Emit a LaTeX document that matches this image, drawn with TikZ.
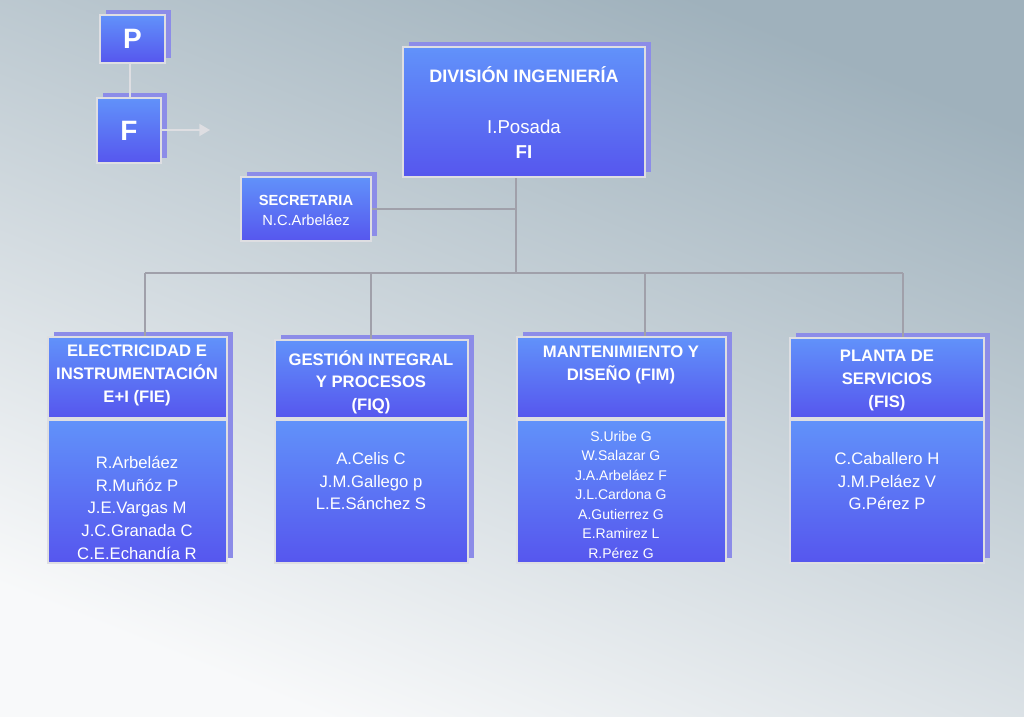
\documentclass[tikz,border=0pt]{standalone}
\usepackage{fontspec}
\setmainfont{Liberation Sans}
\usetikzlibrary{fit,arrows.meta}
\definecolor{bgtop}{HTML}{9FB1BC}
\definecolor{bgbot}{HTML}{F8F9FA}
\definecolor{btop}{HTML}{6192FA}
\definecolor{bbot}{HTML}{5656EE}
\definecolor{bord}{HTML}{DEDEE2}
\definecolor{shd}{HTML}{8C8CE8}
\definecolor{lin}{HTML}{A0A0AA}
\tikzset{
 box/.style={draw=bord,line width=1.6pt,top color=btop,bottom color=bbot,inner sep=0pt},
 shad/.style={fill=shd},
 wt/.style={text=white,align=center,inner sep=0pt},
 hd/.style={wt,font=\bfseries\fontsize{12.5}{17}\selectfont},
 bd/.style={wt,font=\fontsize{12.5}{17}\selectfont},
 conn/.style={draw=lin,line width=1.5pt},
}
\newcommand\obox[5]{%
 \fill[shad] (#2+6,#3-5) rectangle (#4+6,#5-5);
 \node[box,fit={(#2,#3)(#4,#5)}] (#1) {};}
\begin{document}
\begin{tikzpicture}[x=0.75pt,y=-0.75pt]
\shade[top color=bgtop,bottom color=bgbot,shading angle=-22] (0,0) rectangle (1024,717);
\useasboundingbox (0,0) rectangle (1024,717);
% P / F
\obox{P}{100}{15}{165}{63}
\obox{F}{97}{98}{161}{163}
\node[hd,font=\bfseries\fontsize{21}{24}\selectfont] (pt) at (P) {P};
\node[hd,font=\bfseries\fontsize{21}{24}\selectfont] (ft) at (F) {F};
\coordinate (pf) at (130,63);
\draw[conn,draw=bord] (pf) -- (pf |- F.north);
\coordinate (fa) at (210,130);
\draw[draw=bord,line width=1.5pt,-{Triangle[length=8pt,width=9pt]}] (F.east |- fa) -- (fa);
% connectors
\obox{DI}{403}{47}{645}{177}
\obox{SE}{241}{177}{371}{241}
\coordinate (j1) at (516,209);
\coordinate (j2) at (516,273);
\coordinate (h1) at (145,273);
\coordinate (h2) at (371,273);
\coordinate (h3) at (645,273);
\coordinate (h4) at (903,273);
\draw[conn] (DI.south -| j1) -- (j2);
\draw[conn] (SE.east |- j1) -- (j1);
\draw[conn] (h1) -- (h4);
% bottom boxes
\fill[shad] (54,332) rectangle (233,558);
\fill[shad] (281,335) rectangle (474,558);
\fill[shad] (523,332) rectangle (732,558);
\fill[shad] (796,333) rectangle (990,558);
\draw[conn] (h1) -- (145,337);
\draw[conn] (h2) -- (371,340);
\draw[conn] (h3) -- (645,337);
\draw[conn] (h4) -- (903,338);
\node[box,fit={(48,337)(227,418)}] (EH) {};
\node[box,fit={(48,420)(227,563)}] (EB) {};
\node[box,fit={(275,340)(468,418)}] (GH) {};
\node[box,fit={(275,420)(468,563)}] (GB) {};
\node[box,fit={(517,337)(726,418)}] (MH) {};
\node[box,fit={(517,420)(726,563)}] (MB) {};
\node[box,fit={(790,338)(984,418)}] (PH) {};
\node[box,fit={(790,420)(984,563)}] (PB) {};
% texts
\node[hd,font=\bfseries\fontsize{13.5}{19}\selectfont] (dit) at (524,75) {DIVISIÓN INGENIERÍA};
\node[bd,font=\fontsize{14}{19}\selectfont] (dip) at (524,127) {I.Posada};
\node[hd,font=\bfseries\fontsize{14}{19}\selectfont] (dif) at (524,152) {FI};
\node[hd,font=\bfseries\fontsize{11}{14}\selectfont] (set) at (306,200) {SECRETARIA};
\node[bd,font=\fontsize{11}{14}\selectfont] (sen) at (306,220) {N.C.Arbeláez};
\node[hd,anchor=north] (eht) at (137,345) {ELECTRICIDAD E\\INSTRUMENTACIÓN\\E+I (FIE)};
\node[bd,anchor=north] (ebt) at (137,456) {R.Arbeláez\\R.Muñóz P\\J.E.Vargas M\\J.C.Granada C\\C.E.Echandía R};
\node[hd,anchor=north] (ght) at (371,350) {GESTIÓN INTEGRAL\\Y PROCESOS\\(FIQ)};
\node[bd,anchor=north] (gbt) at (371,452) {A.Celis C\\J.M.Gallego p\\L.E.Sánchez S};
\node[hd,anchor=north] (mht) at (621,346) {MANTENIMIENTO Y\\DISEÑO (FIM)};
\node[bd,anchor=north,font=\fontsize{10.5}{14.6}\selectfont] (mbt) at (621,431) {S.Uribe G\\W.Salazar G\\J.A.Arbeláez F\\J.L.Cardona G\\A.Gutierrez G\\E.Ramirez L\\R.Pérez G};
\node[hd,anchor=north] (pht) at (887,350) {PLANTA DE\\SERVICIOS\\(FIS)};
\node[bd,anchor=north] (pbt) at (887,452) {C.Caballero H\\J.M.Peláez V\\G.Pérez P};
\end{tikzpicture}
\end{document}
